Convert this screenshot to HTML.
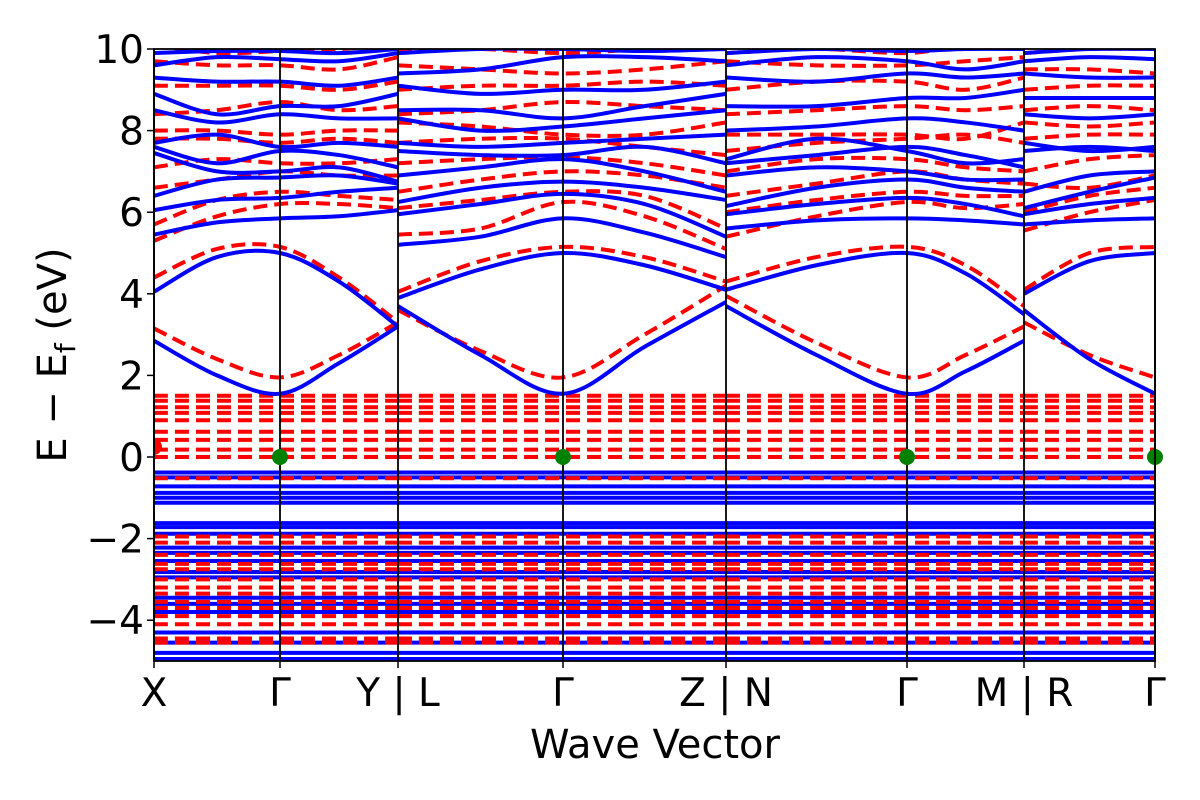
<!DOCTYPE html>
<html><head><meta charset="utf-8"><style>
html,body{margin:0;padding:0;background:#fff;}
svg{display:block;font-family:"DejaVu Sans","Liberation Sans",sans-serif;}
</style></head><body>
<svg id="chart" width="1200" height="800" viewBox="0 0 1200 800" xmlns="http://www.w3.org/2000/svg">
<defs><clipPath id="clip"><rect x="154" y="49" width="1001" height="612"/></clipPath></defs>
<g id="bands" clip-path="url(#clip)"></g>
<g id="axes"></g>
</svg>
<script>
// k-path nodes (fractional path positions) and labels
const nodeK = [0, 1.26, 2.44, 4.09, 5.72, 7.53, 8.70, 10.01];
const nodeLabels = ["X", "Γ", "Y | L", "Γ", "Z | N", "Γ", "M | R", "Γ"];
// sample k positions: X,mid,Γ,mid,Y | L,mid,Γ,mid,Z | N,mid,Γ,mid,M | R,mid,Γ
const sampleK = [0,0.63,1.26,1.85,2.44, 2.44,3.265,4.09,4.905,5.72, 5.72,6.625,7.53,8.115,8.70, 8.70,9.355,10.01];
const pathRanges = [[0,5],[5,10],[10,15],[15,18]];
const yTicks = [10, 8, 6, 4, 2, 0, -2, -4];

const blueBands = [
 [2.85,2.0,1.55,2.3,3.2, 3.7,2.5,1.55,2.7,3.8, 3.7,2.5,1.55,2.1,2.85, 3.6,2.4,1.55],
 [4.05,4.9,5.0,4.3,3.2, 3.9,4.6,5.0,4.7,4.1, 4.1,4.7,5.0,4.5,3.5, 4.0,4.8,5.0],
 [5.45,5.75,5.85,5.9,6.05, 5.2,5.4,5.85,5.5,4.9, 5.6,5.8,5.85,5.8,5.7, 5.7,5.8,5.85],
 [6.05,6.3,6.35,6.5,6.6, 5.95,6.2,6.45,6.2,5.4, 5.95,6.2,6.35,6.2,5.9, 5.95,6.2,6.35],
 [6.4,6.8,6.85,6.9,6.7, 6.25,6.6,6.75,6.6,6.3, 6.15,6.6,6.8,6.6,6.5, 6.1,6.5,6.85],
 [7.45,7.0,7.0,7.1,6.75, 6.9,7.1,7.3,7.0,6.5, 6.9,7.1,7.0,6.8,6.8, 6.5,6.9,7.0],
 [7.6,7.2,7.5,7.4,7.1, 7.5,7.4,7.4,7.6,7.2, 7.2,7.4,7.6,7.4,7.1, 7.5,7.6,7.5],
 [7.7,7.9,7.6,7.7,7.6, 7.7,7.6,7.7,7.8,7.9, 7.3,7.8,7.5,7.2,7.3, 7.7,7.5,7.6],
 [8.5,8.2,8.4,8.3,8.3, 8.3,8.0,8.1,8.3,8.5, 8.0,8.1,8.3,8.2,8.0, 8.4,8.3,8.4],
 [8.9,8.4,8.6,8.6,8.9, 8.5,8.5,8.3,8.6,8.9, 8.6,8.6,8.8,8.8,9.0, 8.8,8.8,8.8],
 [9.3,9.2,9.2,9.1,9.3, 9.1,8.9,9.0,9.0,9.2, 9.3,9.2,9.4,9.3,9.4, 9.4,9.3,9.3],
 [9.6,9.8,9.75,9.7,9.9, 9.4,9.5,9.8,9.8,9.7, 9.6,9.8,9.7,9.5,9.7, 9.7,9.8,9.75],
 [9.9,9.95,9.95,9.9,10.0, 9.9,10,10,9.95,10, 9.9,10,9.95,10,10, 9.9,10,10]
];
const redBands = [
 [3.15,2.4,1.95,2.5,3.3, 3.6,2.6,1.95,3.0,4.2, 3.95,2.8,1.95,2.5,3.2, 3.3,2.5,1.95],
 [4.4,5.1,5.15,4.4,3.3, 4.05,4.8,5.15,4.9,4.3, 4.3,4.9,5.15,4.7,3.7, 4.1,5.0,5.15],
 [5.3,5.9,6.2,6.2,6.1, 5.45,5.6,6.25,5.9,5.1, 5.4,5.9,6.25,6.1,6.2, 5.55,6.0,6.3],
 [5.7,6.3,6.5,6.4,6.3, 6.1,6.3,6.5,6.4,5.6, 6.0,6.3,6.5,6.4,6.4, 6.0,6.4,6.6],
 [6.6,6.8,7.0,6.9,6.9, 6.5,6.8,7.0,6.9,6.6, 6.4,6.7,7.0,6.8,6.7, 6.7,6.6,6.9],
 [7.1,7.3,7.2,7.2,7.3, 7.2,7.3,7.35,7.2,6.9, 7.0,7.3,7.3,7.1,7.0, 7.0,7.3,7.4],
 [7.8,7.8,7.7,7.8,7.7, 7.7,7.8,7.8,7.6,7.4, 7.5,7.7,7.8,7.9,7.7, 7.8,7.9,7.9],
 [8.0,8.0,7.9,8.0,8.0, 8.2,8.1,7.9,7.9,8.2, 7.9,7.9,7.9,7.8,8.2, 8.2,8.1,8.2],
 [8.4,8.5,8.7,8.5,8.6, 8.4,8.5,8.7,8.6,8.5, 8.4,8.5,8.6,8.5,8.6, 8.5,8.6,8.5],
 [9.1,9.1,9.1,9.0,9.2, 9.0,9.1,9.1,9.2,9.1, 9.0,9.2,9.2,9.0,9.3, 9.0,9.1,9.1],
 [9.7,9.6,9.6,9.5,9.8, 9.6,9.5,9.4,9.5,9.7, 9.7,9.6,9.6,9.7,9.8, 9.5,9.5,9.4],
 [10.1,9.9,9.95,10,10.1, 10.0,10.0,9.9,10.0,10.1, 9.9,10,9.9,10.1,10.1, 9.9,10,10]
];
const blueFlat = [-0.38,-0.5,-0.72,-0.88,-1.0,-1.12,-1.62,-1.72,-1.88,-2.22,-2.35,-2.55,-2.82,-2.95,-3.45,-3.6,-3.8,-4.3,-4.55,-4.8,-4.95];
const redFlat = [1.5,1.38,1.22,1.08,0.9,0.62,0.42,0.18,0.0,-0.52,-1.95,-2.1,-2.4,-2.62,-2.75,-3.0,-3.2,-3.35,-3.55,-3.7,-3.9,-4.1,-4.45,-4.55];
const dotK = [1.26, 4.09, 7.53, 10.01];
const dotE = [0, 0, 0, 0];

const X0=154, X1=1155, Y0=49, Y1=661, EMAX=10, EMIN=-5;
const xs = k => X0 + (k - nodeK[0]) / (nodeK[nodeK.length-1] - nodeK[0]) * (X1 - X0);
const ys = e => Y0 + (EMAX - e) / (EMAX - EMIN) * (Y1 - Y0);
const NS = "http://www.w3.org/2000/svg";
const gB = document.getElementById('bands'), gA = document.getElementById('axes');
function mk(tag, attrs, parent){const el=document.createElementNS(NS,tag);for(const a in attrs)el.setAttribute(a,attrs[a]);parent.appendChild(el);return el;}
function smooth(pts){
  let d=`M${pts[0][0]},${pts[0][1]}`;
  for(let i=0;i<pts.length-1;i++){
    const p0=pts[Math.max(i-1,0)],p1=pts[i],p2=pts[i+1],p3=pts[Math.min(i+2,pts.length-1)];
    const c1=[p1[0]+(p2[0]-p0[0])/6,p1[1]+(p2[1]-p0[1])/6];
    const c2=[p2[0]-(p3[0]-p1[0])/6,p2[1]-(p3[1]-p1[1])/6];
    d+=` C${c1[0]},${c1[1]} ${c2[0]},${c2[1]} ${p2[0]},${p2[1]}`;
  }
  return d;
}
function drawBand(vals,color,dashed,name){
  pathRanges.forEach(([a,b])=>{
    const pts=[];for(let i=a;i<b;i++)pts.push([xs(sampleK[i]),ys(vals[i])]);
    const p=mk('path',{d:smooth(pts),fill:'none',stroke:color,'stroke-width':4},gB);
    if(dashed)p.setAttribute('stroke-dasharray','14,7');
    
    
  });
}
blueFlat.forEach(v=>drawBand(sampleK.map(()=>v),'#0000ff',false,'spin-up-band'));
redFlat.forEach(v=>drawBand(sampleK.map(()=>v),'#ff0000',true,'spin-down-band'));
redBands.forEach(b=>drawBand(b,'#ff0000',true,'spin-down-band'));
blueBands.forEach(b=>drawBand(b,'#0000ff',false,'spin-up-band'));
nodeK.forEach((k,i)=>{
  const l=mk('line',{x1:xs(k),x2:xs(k),y1:Y0,y2:Y1,stroke:'#000','stroke-width':1.8},gA);
  
  
});
const c0=mk('circle',{cx:xs(0),cy:ys(0.25),r:8,fill:'#ff0000'},gB);


dotK.forEach((k,i)=>{
  const c=mk('circle',{cx:xs(k),cy:ys(dotE[i]),r:8,fill:'#008000'},gA);
  
  
});
const fr=mk('rect',{x:X0,y:Y0,width:X1-X0,height:Y1-Y0,fill:'none',stroke:'#000','stroke-width':1.8},gA);


yTicks.forEach(t=>{
  mk('line',{x1:X0-7,x2:X0,y1:ys(t),y2:ys(t),stroke:'#000','stroke-width':1.5},gA);
  const tx=mk('text',{x:X0-10,y:ys(t)+14,'text-anchor':'end','font-size':39,fill:'#000'},gA);
  tx.textContent=(t<0?'\u2212':'')+Math.abs(t);
  
  
});
nodeK.forEach((k,i)=>{
  mk('line',{x1:xs(k),x2:xs(k),y1:Y1,y2:Y1+7,stroke:'#000','stroke-width':1.5},gA);
  const tx=mk('text',{x:xs(k),y:706,'text-anchor':'middle','font-size':39,fill:'#000'},gA);
  tx.textContent=nodeLabels[i];
  
  
});
</script>
<svg style="position:absolute;left:0;top:0" width="1200" height="800">
<text x="655" y="758" text-anchor="middle" font-size="40" font-family="DejaVu Sans, Liberation Sans, sans-serif">Wave Vector</text>
<text transform="translate(66,355) rotate(-90)" text-anchor="middle" font-size="40" font-family="DejaVu Sans, Liberation Sans, sans-serif">E − E<tspan font-size="28" dy="9">f</tspan><tspan dy="-9"> (eV)</tspan></text>
</svg>
</body></html>
